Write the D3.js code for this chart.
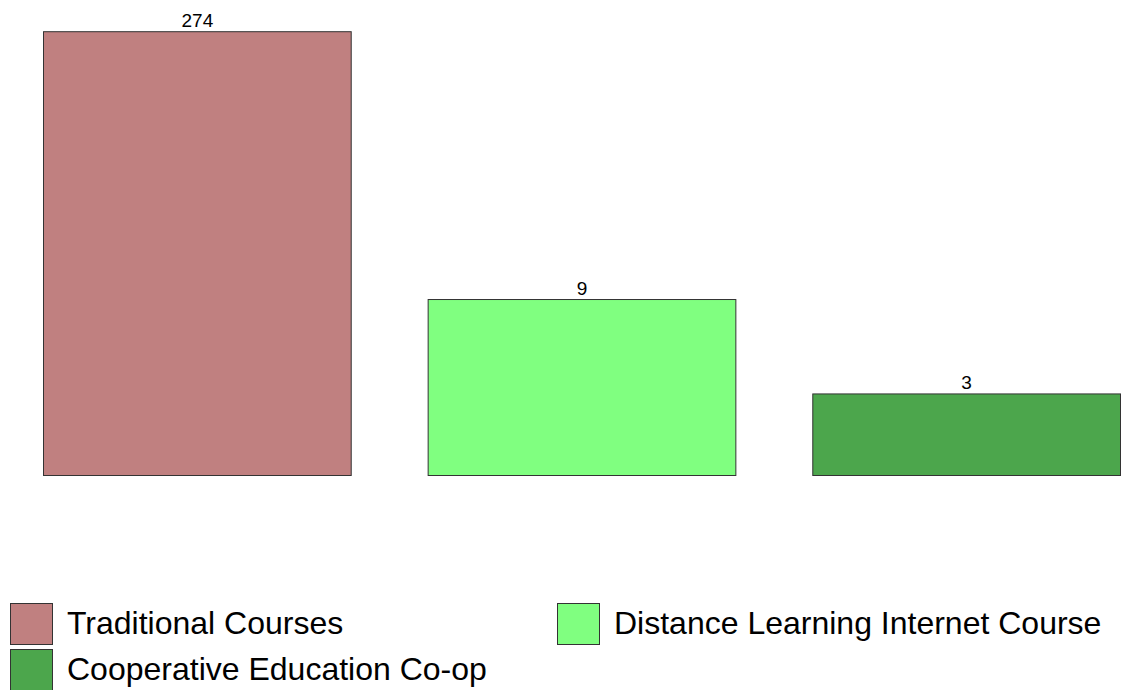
<!DOCTYPE html>
<html>
<head>
<meta charset="utf-8">
<script src="https://cdn.jsdelivr.net/npm/d3@7"></script>
<style>
  html, body { margin: 0; padding: 0; background: #ffffff; }
  svg { display: block; }
  text { font-family: Arial, "Liberation Sans", sans-serif; fill: #000; }
</style>
</head>
<body>
<script>
const categories = ["Traditional Courses", "Distance Learning Internet Course", "Cooperative Education Co-op"];
const values = [274, 9, 3];
const colors = ["#C08080", "#80FF80", "#4CA64C"];

const W = 1122, H = 690;
const svg = d3.select("body").append("svg").attr("width", W).attr("height", H);

const x = d3.scaleBand().domain(categories).range([43.5, 1120.5]).paddingInner(0.2).paddingOuter(0);
const shift = 0.5;
const y = d3.scaleLog().domain([0.8686, 274 - shift]).range([475.5, 31.7]);

const g = svg.append("g");
g.selectAll("rect.bar").data(categories).join("rect")
  .attr("class", "bar")
  .attr("x", d => x(d))
  .attr("width", x.bandwidth())
  .attr("y", (d, i) => y(values[i] - shift))
  .attr("height", (d, i) => 475.5 - y(values[i] - shift))
  .attr("fill", (d, i) => colors[i])
  .attr("stroke", "#333")
  .attr("stroke-width", 1);

g.selectAll("text.lbl").data(categories).join("text")
  .attr("class", "lbl")
  .attr("x", d => x(d) + x.bandwidth() / 2)
  .attr("y", (d, i) => y(values[i] - shift) - 5)
  .attr("text-anchor", "middle")
  .attr("font-size", 19)
  .text((d, i) => values[i]);

// legend
const legendPos = [[10, 603.5], [557, 603.5], [10, 649.5]];
const lg = svg.append("g");
categories.forEach((c, i) => {
  const [lx, ly] = legendPos[i];
  lg.append("rect").attr("x", lx + 0.5).attr("y", ly).attr("width", 42).attr("height", 41)
    .attr("fill", colors[i]).attr("stroke", "#333").attr("stroke-width", 1);
  lg.append("text").attr("x", lx + 57).attr("y", ly + 30)
    .attr("font-size", 32).text(c);
});
</script>
</body>
</html>
